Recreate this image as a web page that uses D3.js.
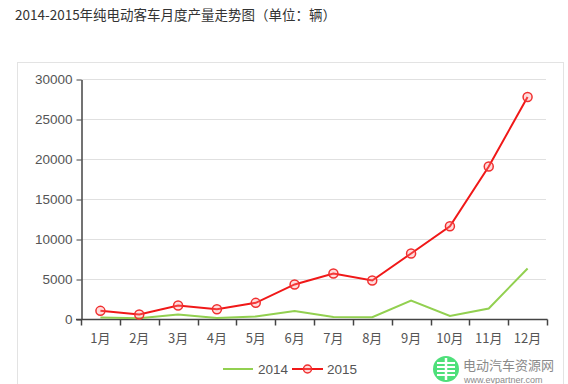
<!DOCTYPE html>
<html>
<head>
<meta charset="utf-8">
<script src="https://cdn.jsdelivr.net/npm/d3@7"></script>
<style>
  body { margin: 0; background: #fff; }
  svg { display: block; }
</style>
</head>
<body>
<svg id="chart" width="568" height="384"></svg>
<script>
const months = ["1月","2月","3月","4月","5月","6月","7月","8月","9月","10月","11月","12月"];
const series2014 = [250, 150, 620, 200, 380, 1070, 320, 290, 2380, 450, 1370, 6380];
const series2015 = [1080, 620, 1750, 1290, 2080, 4380, 5750, 4880, 8250, 11660, 19120, 27820];
const yTicks = [0, 5000, 10000, 15000, 20000, 25000, 30000];

const svg = d3.select("#chart");
const font = "'Liberation Sans', Arial, sans-serif";

// title
svg.append("text")
  .attr("x", 15).attr("y", 20)
  .attr("font-family", "'Noto Sans CJK SC', sans-serif")
  .attr("font-size", 13.5)
  .attr("fill", "#333")
  .text("2014-2015年纯电动客车月度产量走势图（单位：辆）");

// outer frame
svg.append("rect")
  .attr("x", 17.5).attr("y", 62.5)
  .attr("width", 546).attr("height", 340)
  .attr("fill", "none").attr("stroke", "#e3e3e3");

const x = d3.scaleBand().domain(months).range([81, 547]);
const y = d3.scaleLinear().domain([0, 30000]).range([319.5, 79.5]);

// grid
svg.append("g").selectAll("line")
  .data(yTicks.filter(d => d > 0))
  .join("line")
  .attr("x1", 81).attr("x2", 546)
  .attr("y1", d => y(d)).attr("y2", d => y(d))
  .attr("stroke", "#e0e0e0");

// y axis
const yAxis = svg.append("g")
  .attr("transform", "translate(81.5,0)")
  .call(d3.axisLeft(y).tickValues(yTicks).tickFormat(d3.format("d"))
    .tickSize(5).tickPadding(4).tickSizeOuter(0));
yAxis.select(".domain").attr("stroke", "#444").attr("stroke-width", 1.5);
yAxis.selectAll(".tick line").attr("stroke", "#444");
yAxis.selectAll("text").attr("font-family", font).attr("font-size", 13.5).attr("fill", "#555");

// x axis with ticks at band edges
const xAxis = svg.append("g").attr("transform", "translate(0,319.5)");
xAxis.append("line")
  .attr("x1", 76).attr("x2", 547.5)
  .attr("stroke", "#444").attr("stroke-width", 1.5);
const edges = months.map(m => x(m)).concat([x.range()[1]]);
xAxis.selectAll(".tk").data(edges).join("line")
  .attr("class", "tk")
  .attr("x1", d => Math.round(d) + 0.5).attr("x2", d => Math.round(d) + 0.5)
  .attr("y1", 0).attr("y2", 6)
  .attr("stroke", "#444").attr("stroke-width", 1.5);
xAxis.selectAll(".lbl").data(months).join("text")
  .attr("class", "lbl")
  .attr("x", d => x(d) + x.bandwidth() / 2)
  .attr("y", 23)
  .attr("text-anchor", "middle")
  .attr("font-family", "'Noto Sans CJK SC', sans-serif")
  .attr("font-size", 13)
  .attr("fill", "#555")
  .text(d => d);

const cx = (d, i) => x(months[i]) + x.bandwidth() / 2;
const line = d3.line().x(cx).y(d => y(d));

svg.append("path").datum(series2014)
  .attr("d", line).attr("fill", "none")
  .attr("stroke", "#92d050").attr("stroke-width", 2);

svg.append("path").datum(series2015)
  .attr("d", line).attr("fill", "none")
  .attr("stroke", "#f01818").attr("stroke-width", 2);

svg.append("g").selectAll("circle").data(series2015).join("circle")
  .attr("cx", cx).attr("cy", d => y(d)).attr("r", 4.5)
  .attr("fill", "rgba(255,140,140,0.3)")
  .attr("stroke", "#f03030").attr("stroke-width", 1.5);

// legend
const lg = svg.append("g").attr("transform", "translate(0,369)");
lg.append("line").attr("x1", 223).attr("x2", 253)
  .attr("stroke", "#92d050").attr("stroke-width", 2);
lg.append("text").attr("x", 258).attr("y", 5)
  .attr("font-family", font).attr("font-size", 13.5).attr("fill", "#555").text("2014");
lg.append("line").attr("x1", 292).attr("x2", 323)
  .attr("stroke", "#f01818").attr("stroke-width", 2);
lg.append("circle").attr("cx", 307.5).attr("cy", 0).attr("r", 4)
  .attr("fill", "rgba(255,140,140,0.3)").attr("stroke", "#f03030").attr("stroke-width", 1.5);
lg.append("text").attr("x", 327).attr("y", 5)
  .attr("font-family", font).attr("font-size", 13.5).attr("fill", "#555").text("2015");

// watermark
const wm = svg.append("g");
wm.append("circle").attr("cx", 446).attr("cy", 369).attr("r", 13).attr("fill", "#4ee07a");
[-6, -2, 2, 6].forEach(dy => {
  wm.append("line").attr("x1", 437).attr("x2", 455)
    .attr("y1", 369 + dy).attr("y2", 369 + dy)
    .attr("stroke", "#fff").attr("stroke-width", 2);
});
wm.append("line").attr("x1", 446).attr("x2", 446).attr("y1", 358).attr("y2", 380)
  .attr("stroke", "#fff").attr("stroke-width", 2.5);
wm.append("text").attr("x", 463).attr("y", 370)
  .attr("font-family", "'Noto Sans CJK SC', sans-serif").attr("font-size", 13)
  .attr("fill", "#8a8a8a").text("电动汽车资源网");
wm.append("text").attr("x", 464).attr("y", 383)
  .attr("font-family", font).attr("font-size", 9)
  .attr("fill", "#8a8a8a").text("www.evpartner.com");
</script>
</body>
</html>
